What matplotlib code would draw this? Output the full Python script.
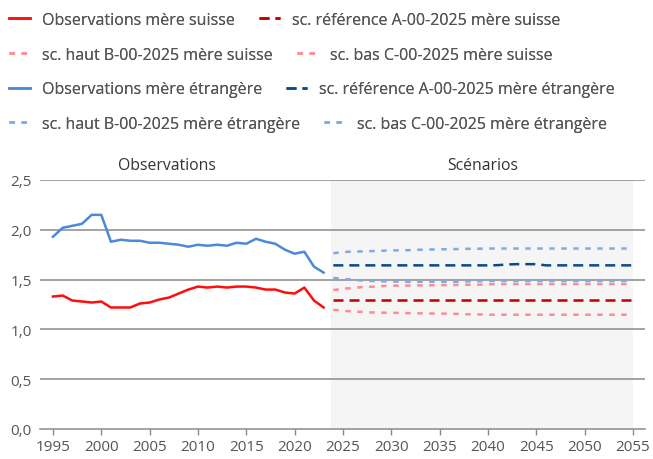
import matplotlib
matplotlib.use("Agg")
import matplotlib.pyplot as plt
from matplotlib.ticker import FuncFormatter

plt.rcParams['font.family'] = ['Open Sans', 'DejaVu Sans']

obs_years = list(range(1995, 2024))
obs_suisse = [1.33, 1.34, 1.29, 1.28, 1.27, 1.28, 1.22, 1.22, 1.22, 1.26, 1.27,
              1.30, 1.32, 1.36, 1.40, 1.43, 1.42, 1.43, 1.42, 1.43, 1.43, 1.42,
              1.40, 1.40, 1.37, 1.36, 1.42, 1.29, 1.22]
obs_etr = [1.93, 2.02, 2.04, 2.06, 2.15, 2.15, 1.88, 1.90, 1.89, 1.89, 1.87,
           1.87, 1.86, 1.85, 1.83, 1.85, 1.84, 1.85, 1.84, 1.87, 1.86, 1.91,
           1.88, 1.86, 1.80, 1.76, 1.78, 1.63, 1.57]

sc_years = list(range(2024, 2056))
ref_suisse = [1.30] * 32
haut_suisse = [1.395, 1.408, 1.415, 1.425, 1.428, 1.435, 1.438, 1.44, 1.441, 1.442,
               1.443, 1.444, 1.446, 1.447, 1.448, 1.449, 1.452, 1.454, 1.455, 1.455,
               1.455, 1.455, 1.455, 1.455, 1.455, 1.455, 1.455, 1.455, 1.455, 1.455,
               1.455, 1.455]
bas_suisse = [1.197, 1.187, 1.18, 1.175, 1.17, 1.168, 1.167, 1.165, 1.163, 1.161,
              1.16, 1.159, 1.157, 1.155, 1.152, 1.15, 1.148, 1.147, 1.147, 1.147,
              1.147, 1.147, 1.147, 1.147, 1.147, 1.147, 1.147, 1.147, 1.147, 1.147,
              1.147, 1.147]
ref_etr = [1.643] * 17 + [1.645, 1.652, 1.655, 1.655, 1.655, 1.643] + [1.643] * 9
haut_etr = [1.765, 1.776, 1.782, 1.783, 1.786, 1.79, 1.793, 1.794, 1.796, 1.80,
            1.802, 1.803, 1.806, 1.807, 1.809, 1.81, 1.812, 1.812, 1.812, 1.812,
            1.812, 1.812, 1.812, 1.812, 1.812, 1.812, 1.812, 1.812, 1.812, 1.812,
            1.812, 1.812]
bas_etr = [1.517, 1.507, 1.50, 1.49, 1.486, 1.483, 1.481, 1.479, 1.478, 1.478,
           1.478, 1.478, 1.478, 1.479, 1.482, 1.484, 1.486, 1.486, 1.486, 1.486,
           1.486, 1.486, 1.486, 1.486, 1.486, 1.486, 1.486, 1.486, 1.486, 1.486,
           1.486, 1.486]

labels = ["Observations mère suisse", "sc. référence A-00-2025 mère suisse",
          "sc. haut B-00-2025 mère suisse", "sc. bas C-00-2025 mère suisse",
          "Observations mère étrangère", "sc. référence A-00-2025 mère étrangère",
          "sc. haut B-00-2025 mère étrangère", "sc. bas C-00-2025 mère étrangère"]

C_RED = "#ff0d0d"
C_DRED = "#c00000"
C_PINK = "#ff8b95"
C_BLUE = "#4a8ad8"
C_DBLUE = "#0b4a8a"
C_LBLUE = "#7faae6"
GRID = "#8a8a8a"
TXT = "#555555"

fig = plt.figure(figsize=(6.53, 4.60), dpi=100)
ax = fig.add_axes([40/653, 30/460, 605/653, 249/460])

ax.axvspan(2023.75, 2055, color="#f5f5f5", zorder=0, lw=0)

lw = 1.8
ref_d = (4.0, 2.4)
hl_d = (2.2, 2.6)

l1, = ax.plot(obs_years, obs_suisse, color=C_RED, lw=lw, zorder=3)
l2, = ax.plot(sc_years, ref_suisse, color=C_DRED, lw=lw, dashes=ref_d, zorder=3)
l3, = ax.plot(sc_years, haut_suisse, color=C_PINK, lw=lw, dashes=hl_d, zorder=3)
l4, = ax.plot(sc_years, bas_suisse, color=C_PINK, lw=lw, dashes=hl_d, zorder=3)
l5, = ax.plot(obs_years, obs_etr, color=C_BLUE, lw=lw, zorder=3)
l6, = ax.plot(sc_years, ref_etr, color=C_DBLUE, lw=lw, dashes=ref_d, zorder=3)
l7, = ax.plot(sc_years, haut_etr, color=C_LBLUE, lw=lw, dashes=hl_d, zorder=3)
l8, = ax.plot(sc_years, bas_etr, color=C_LBLUE, lw=lw, dashes=hl_d, zorder=3)
handles = [l1, l2, l3, l4, l5, l6, l7, l8]

ax.set_xlim(1993.66, 2056.24)
ax.set_ylim(0, 2.5)
ax.set_xticks(list(range(1995, 2056, 5)))
ax.set_yticks([0, 0.5, 1.0, 1.5, 2.0, 2.5])
ax.yaxis.set_major_formatter(FuncFormatter(lambda v, p: f"{v:.1f}".replace(".", ",")))
for y in [0.5, 1.0, 1.5, 2.0, 2.5]:
    ax.axhline(y, color=GRID, lw=1.1, zorder=1)
for s in ["top", "right", "left"]:
    ax.spines[s].set_visible(False)
ax.spines["bottom"].set_color(GRID)
ax.spines["bottom"].set_linewidth(1.1)
ax.tick_params(axis="x", colors=GRID, labelcolor=TXT, labelsize=11, length=4, width=1, pad=3)
ax.tick_params(axis="y", length=0, labelcolor=TXT, labelsize=11, pad=6)

ax.text(2006.8, 2.655, "Observations", ha="center", va="center", fontsize=11.3, color="#333333")
ax.text(2039.5, 2.655, "Scénarios", ha="center", va="center", fontsize=11.3, color="#333333")

rows_y = [20.7, 55.7, 90.5, 125]
for i, yy in enumerate(rows_y):
    leg = fig.legend(handles[2*i:2*i+2], labels[2*i:2*i+2], ncol=2,
                     loc="center left", bbox_to_anchor=(9/653, 1 - yy/460),
                     frameon=False, fontsize=11.5, handlelength=1.31,
                     handletextpad=0.75, columnspacing=1.5, borderpad=0,
                     borderaxespad=0, labelcolor=TXT)
    fig.add_artist(leg)

fig.savefig("out.png", dpi=100)
